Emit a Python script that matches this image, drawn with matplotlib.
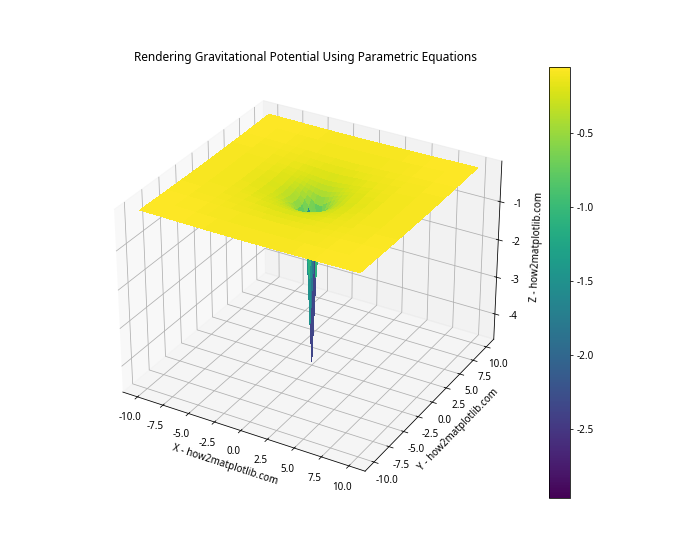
import numpy as np
import matplotlib
matplotlib.use("Agg")
import matplotlib.pyplot as plt

plt.rcParams['font.family'] = ['Noto Sans', 'DejaVu Sans']
plt.rcParams['font.size'] = 10.15
plt.rcParams['axes.unicode_minus'] = False

# grid nodes for one quadrant, mirrored below
half_axis = [0, 0.4, 0.8, 1.2, 1.6, 2, 2.5, 3, 4, 5, 6, 8, 10]

# potential, one quadrant (symmetric)
z_quadrant = [
    [-4.60, -1.80, -.95, -.62, -.47, -.375, -.30, -.25, -.19, -.15, -.125, -.095, -.075],
    [-1.80, -1.00, -.84, -.59, -.46, -.37, -.295, -.245, -.187, -.15, -.125, -.094, -.075],
    [-.95, -.84, -.66, -.52, -.42, -.345, -.285, -.24, -.184, -.148, -.124, -.093, -.075],
    [-.62, -.59, -.52, -.44, -.375, -.32, -.27, -.23, -.18, -.146, -.122, -.093, -.074],
    [-.47, -.46, -.42, -.375, -.33, -.29, -.255, -.22, -.172, -.142, -.12, -.092, -.074],
    [-.375, -.37, -.345, -.32, -.29, -.26, -.23, -.21, -.165, -.14, -.118, -.091, -.073],
    [-.30, -.295, -.285, -.27, -.255, -.23, -.21, -.195, -.157, -.135, -.115, -.089, -.073],
    [-.25, -.245, -.24, -.23, -.22, -.21, -.195, -.18, -.15, -.128, -.112, -.088, -.072],
    [-.19, -.187, -.184, -.18, -.172, -.165, -.157, -.15, -.135, -.117, -.104, -.084, -.07],
    [-.15, -.15, -.148, -.146, -.142, -.14, -.135, -.128, -.117, -.106, -.096, -.08, -.067],
    [-.125, -.125, -.124, -.122, -.12, -.118, -.115, -.112, -.104, -.096, -.088, -.075, -.065],
    [-.095, -.094, -.093, -.093, -.092, -.091, -.089, -.088, -.084, -.08, -.075, -.06, -.055],
    [-.075, -.075, -.075, -.074, -.074, -.073, -.073, -.072, -.07, -.067, -.065, -.055, -.05],
]

# the nine nodes around the spike are not symmetric in the picture
# rows y = -0.4, 0, 0.4 / columns x = -0.4, 0, 0.4
z_centre = [
    [-1.0, -2.3, -0.3],
    [-1.8, -4.6, -2.3],
    [-3.68, -1.8, -1.0],
]

z_ticks = [-4, -3, -2, -1]

half = np.array(half_axis)
axis_vals = np.concatenate((-half[:0:-1], half))
q = np.array(z_quadrant)
right = np.hstack((q[:, :0:-1], q))
Z = np.vstack((right[:0:-1], right))
mid = len(half) - 1
Z[mid-1:mid+2, mid-1:mid+2] = z_centre
X, Y = np.meshgrid(axis_vals, axis_vals)

fig = plt.figure(figsize=(10, 8), dpi=70)
ax = fig.add_subplot(111, projection='3d')
surf = ax.plot_surface(X, Y, Z, cmap='viridis', linewidth=0, antialiased=False)

ax.set_zticks(z_ticks)
ax.set_xlabel('X - how2matplotlib.com')
ax.set_ylabel('Y - how2matplotlib.com')
ax.set_zlabel('Z - how2matplotlib.com')
ax.set_title('Rendering Gravitational Potential Using Parametric Equations')
fig.colorbar(surf)

plt.savefig('out.png', dpi=70)
